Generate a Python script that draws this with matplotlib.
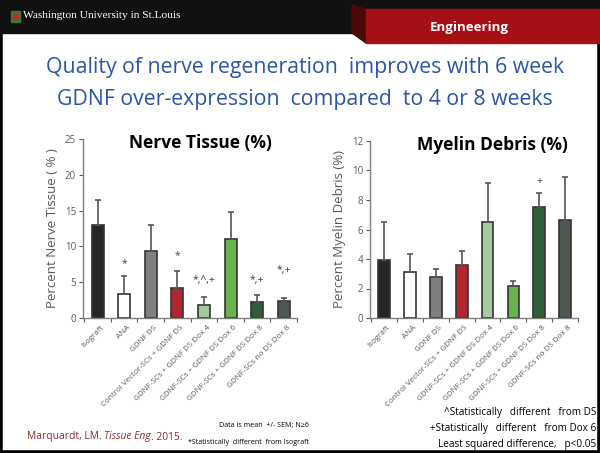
import matplotlib
matplotlib.use('Agg')
import matplotlib.pyplot as plt
from matplotlib.patches import Rectangle, Polygon

plt.rcParams['font.family'] = ['Open Sans', 'DejaVu Sans']

# data
groups = ['Isograft', 'ANA', 'GDNF DS', 'Control Vector-SCs + GDNF DS',
          'GDNF-SCs + GDNF DS Dox 4', 'GDNF-SCs + GDNF DS Dox 6',
          'GDNF-SCs + GDNF DS Dox 8', 'GDNF-SCs no DS Dox 8']
bar_colors = ['#262626', '#ffffff', '#7f7f7f', '#b0282e',
              '#a6c89e', '#6ab24c', '#2e5e3a', '#4e5750']

nerve_mean = [13.0, 3.4, 9.4, 4.2, 1.8, 11.0, 2.2, 2.4]
nerve_sem = [3.5, 2.5, 3.6, 2.3, 1.1, 3.8, 1.0, 0.35]
nerve_marks = ['', '*', '', '*', '*,^,+', '', '*,+', '*,+']
nerve_mark_y = [0, 7.6, 0, 8.7, 5.3, 0, 5.3, 6.7]

myelin_mean = [3.94, 3.12, 2.78, 3.62, 6.5, 2.17, 7.53, 6.67]
myelin_sem = [2.56, 1.25, 0.57, 0.9, 2.66, 0.33, 0.97, 2.9]
myelin_marks = ['', '', '', '', '', '', '+', '']
myelin_mark_y = [0, 0, 0, 0, 0, 0, 9.23, 0]

fig = plt.figure(figsize=(6, 4.53), dpi=100)

# slide frame and header
W, H = 600, 453
def fx(x): return x / W
def fy(y): return 1 - y / H

fig.patches.append(Rectangle((0, 0), 1, 1, transform=fig.transFigure,
                             fill=False, edgecolor='black', linewidth=4, zorder=0))
fig.patches.append(Rectangle((0, fy(33)), 1, 33 / H, transform=fig.transFigure,
                             color='#111111', zorder=1))
fig.patches.append(Polygon([(fx(352), fy(5)), (fx(366), fy(9)), (fx(366), fy(43)), (fx(352), fy(33))],
                           transform=fig.transFigure, color='#4a0a0a', zorder=2))
fig.patches.append(Rectangle((fx(366), fy(43)), 1 - fx(366), 34 / H, transform=fig.transFigure,
                             color='#a50f15', zorder=2))
fig.patches.append(Rectangle((fx(11), fy(22)), 9 / W, 11 / H, transform=fig.transFigure,
                             color='#3d7a3a', zorder=3))
fig.patches.append(Rectangle((fx(13), fy(19)), 5 / W, 5 / H, transform=fig.transFigure,
                             color='#b2312d', zorder=4))
fig.text(fx(23), fy(16), 'Washington University in St.Louis', color='white',
         family=['Liberation Serif', 'DejaVu Serif'], fontsize=8.2, va='center', ha='left')
fig.text(fx(430), fy(27), 'Engineering', color='white', fontsize=9.5,
         fontweight='bold', va='center', ha='left')

# slide title
title_col = '#2a56a6'
fig.text(fx(305), fy(68), 'Quality of nerve regeneration  improves with 6 week',
         color=title_col, fontsize=15.3, ha='center', va='center')
fig.text(fx(305), fy(100), 'GDNF over-expression  compared  to 4 or 8 weeks',
         color=title_col, fontsize=15.3, ha='center', va='center')

tick_col = '#595959'


def draw_panel(rect, means, sems, marks, mark_y, ymax, ystep, ylabel, title, title_xy):
    ax = fig.add_axes(rect)
    x = list(range(len(means)))
    ax.bar(x, means, width=0.45, color=bar_colors, edgecolor='#333333', linewidth=1.2,
           yerr=[[0] * len(sems), sems], capsize=2.2,
           error_kw=dict(ecolor='#555555', elinewidth=1.2, capthick=1.2), zorder=2)
    for xi, m, my in zip(x, marks, mark_y):
        if m:
            ax.text(xi, my, m, ha='center', va='center', fontsize=7.5, color='#404040')
    ax.set_xlim(-0.55, 7.4)
    ax.set_ylim(0, ymax)
    ax.set_yticks(range(0, ymax + 1, ystep))
    ax.set_xticks([i - 0.5 for i in range(9)])
    ax.set_xticklabels([])
    ax.tick_params(axis='y', labelsize=7, colors=tick_col, length=3, width=0.8, pad=2)
    ax.tick_params(axis='x', length=3, width=0.8, colors=tick_col)
    for s in ['top', 'right']:
        ax.spines[s].set_visible(False)
    for s in ['left', 'bottom']:
        ax.spines[s].set_color('#7f7f7f')
        ax.spines[s].set_linewidth(1)
    for xi, lab in zip(x, groups):
        ax.text(xi + 0.1, -0.035 * ymax, lab, rotation=45, ha='right', va='top',
                rotation_mode='anchor', fontsize=5.8, color=tick_col)
    ax.set_ylabel(ylabel, fontsize=9.5, color=tick_col, labelpad=4)
    fig.text(title_xy[0], title_xy[1], title, fontsize=12.5, fontweight='bold',
             ha='center', va='center', color='black')
    return ax


draw_panel([fx(83), fy(318), (297 - 83) / W, (318 - 139) / H],
           nerve_mean, nerve_sem, nerve_marks, nerve_mark_y, 25, 5,
           'Percent Nerve Tissue ( % )', 'Nerve Tissue (%)', (fx(200), fy(143)))
draw_panel([fx(370), fy(318), (578 - 370) / W, (318 - 141) / H],
           myelin_mean, myelin_sem, myelin_marks, myelin_mark_y, 12, 2,
           'Percent Myelin Debris (%)', 'Myelin Debris (%)', (fx(492), fy(145)))

# footer notes
cite_col = '#8b2a2a'
fig.canvas.draw()
r = fig.canvas.get_renderer()
t1 = fig.text(fx(27), fy(437), 'Marquardt, LM. ', color=cite_col, fontsize=7.4, va='center')
bb = t1.get_window_extent(r)
t2 = fig.text(bb.x1 / W, fy(437), 'Tissue Eng', color=cite_col, fontsize=7.4,
              va='center', style='italic')
bb = t2.get_window_extent(r)
fig.text(bb.x1 / W, fy(437), '. 2015.', color=cite_col, fontsize=7.4, va='center')

fig.text(fx(309), fy(425), 'Data is mean  +/- SEM; N\u22656', fontsize=5.1,
         ha='right', va='center')
fig.text(fx(309), fy(443), '*Statistically  different  from Isograft', fontsize=5.1,
         ha='right', va='center')
fig.text(fx(596), fy(413), '^Statistically   different   from DS', fontsize=7.2,
         ha='right', va='center')
fig.text(fx(596), fy(429), '+Statistically   different   from Dox 6', fontsize=7.2,
         ha='right', va='center')
fig.text(fx(596), fy(445), 'Least squared difference,   p<0.05', fontsize=7.2,
         ha='right', va='center')

fig.savefig('out.png', dpi=100)
